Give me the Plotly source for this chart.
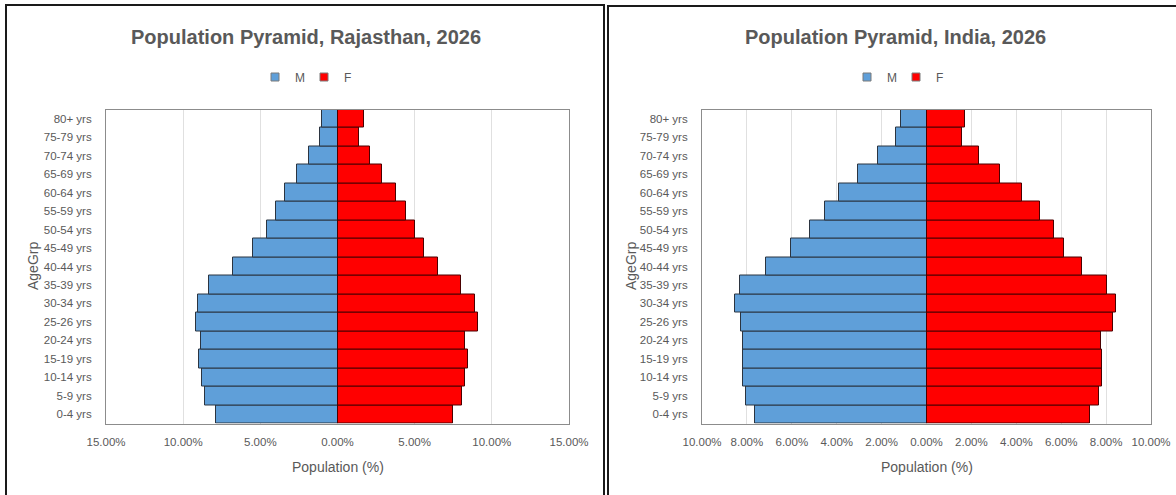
import plotly.graph_objects as go

# Age groups, bottom to top
age_groups = ["0-4 yrs", "5-9 yrs", "10-14 yrs", "15-19 yrs", "20-24 yrs", "25-26 yrs",
              "30-34 yrs", "35-39 yrs", "40-44 yrs", "45-49 yrs", "50-54 yrs", "55-59 yrs",
              "60-64 yrs", "65-69 yrs", "70-74 yrs", "75-79 yrs", "80+ yrs"]

# Rajasthan 2026, share of population (%)
raj_male = [7.87, 8.59, 8.78, 8.96, 8.87, 9.17, 9.02, 8.33, 6.77, 5.46, 4.59, 3.99,
            3.38, 2.62, 1.87, 1.15, 0.98]
raj_female = [7.49, 8.09, 8.26, 8.46, 8.26, 9.11, 8.89, 8.02, 6.49, 5.58, 5.04, 4.46,
              3.77, 2.86, 2.09, 1.41, 1.70]

# India 2026, share of population (%)
ind_male = [7.63, 8.04, 8.19, 8.19, 8.16, 8.28, 8.52, 8.29, 7.16, 6.02, 5.19, 4.52,
            3.88, 3.05, 2.16, 1.35, 1.14]
ind_female = [7.29, 7.70, 7.83, 7.83, 7.79, 8.31, 8.43, 8.05, 6.91, 6.14, 5.69, 5.07,
              4.25, 3.29, 2.35, 1.60, 1.70]

raj_ticks = [-15, -10, -5, 0, 5, 10, 15]
ind_ticks = [-10, -8, -6, -4, -2, 0, 2, 4, 6, 8, 10]

W, H = 1176, 495
BLUE = "#5f9fd9"
RED = "#ff0000"
GREY_TXT = "#595959"
FONT = "Liberation Sans"


def px(x):
    return x / W


def py(y):
    return 1 - y / H


fig = go.Figure()

panels = [("x", "y", "legend", raj_male, raj_female),
          ("x2", "y2", "legend2", ind_male, ind_female)]

for xa, ya, lg, male, female in panels:
    fig.add_trace(go.Bar(y=age_groups, x=[-v for v in male], orientation="h", name="M",
                         marker=dict(color=BLUE, line=dict(color="#2b3440", width=1)),
                         xaxis=xa, yaxis=ya, showlegend=False))
    fig.add_trace(go.Bar(y=age_groups, x=female, orientation="h", name="F",
                         marker=dict(color=RED, line=dict(color="#4a0000", width=1)),
                         xaxis=xa, yaxis=ya, showlegend=False))
    # small square legend keys for the two series
    for name, color in (("M", BLUE), ("F", RED)):
        fig.add_trace(go.Scatter(x=[None], y=[None], mode="markers", name=name,
                                 marker=dict(symbol="square", size=8, color=color,
                                             line=dict(color="#7a7a7a", width=1)),
                                 xaxis=xa, yaxis=ya, legend=lg, showlegend=True))

tick_font = dict(family=FONT, size=11.5, color=GREY_TXT)


def xaxis_cfg(domain, ticks, rng):
    return dict(domain=domain, range=rng, tickvals=ticks,
                ticktext=[f"{abs(t):.2f}%" for t in ticks],
                showgrid=True, gridcolor="#e0e0e0", gridwidth=1, zeroline=False,
                showline=True, mirror=True, linecolor="#8c8c8c", linewidth=1,
                ticks="", tickfont=tick_font, ticklabelstandoff=8, fixedrange=True,
                automargin=False)


def yaxis_cfg(domain, anchor):
    return dict(domain=domain, anchor=anchor, type="category", showgrid=False,
                showline=True, mirror=True, linecolor="#8c8c8c", linewidth=1,
                ticks="", tickfont=tick_font, ticklabelstandoff=11, fixedrange=True,
                automargin=False)


y_dom = [py(423.5), py(109.5)]

legend_common = dict(orientation="h", xanchor="center", yanchor="middle",
                     font=dict(family=FONT, size=12, color=GREY_TXT), itemwidth=30,
                     entrywidth=4, entrywidthmode="pixels", bgcolor="rgba(0,0,0,0)",
                     tracegroupgap=0)

fig.update_layout(
    width=W, height=H,
    margin=dict(l=0, r=0, t=0, b=0),
    paper_bgcolor="white", plot_bgcolor="white",
    barmode="relative", bargap=0,
    xaxis=xaxis_cfg([px(106), px(569)], raj_ticks, [-15, 15]) | dict(anchor="y"),
    yaxis=yaxis_cfg(y_dom, "x"),
    xaxis2=xaxis_cfg([px(702), px(1151)], ind_ticks, [-10, 10]) | dict(anchor="y2"),
    yaxis2=yaxis_cfg(y_dom, "x2"),
    legend=legend_common | dict(x=px(304), y=py(77)),
    legend2=legend_common | dict(x=px(896), y=py(77)),
    showlegend=True,
)

title_font = dict(family=FONT, size=20, color=GREY_TXT, weight="bold")
axis_title_font = dict(family=FONT, size=14, color=GREY_TXT)

annotations = [
    dict(text="Population Pyramid, Rajasthan, 2026", x=px(306), y=py(37)),
    dict(text="Population Pyramid, India, 2026", x=px(895), y=py(37)),
]
annotations = [a | dict(xref="paper", yref="paper", showarrow=False, font=title_font,
                        xanchor="center", yanchor="middle") for a in annotations]

axis_titles = [
    dict(text="Population (%)", x=px(338), y=py(467)),
    dict(text="Population (%)", x=px(927), y=py(467)),
    dict(text="AgeGrp", x=px(33), y=py(266), textangle=-90),
    dict(text="AgeGrp", x=px(631), y=py(266), textangle=-90),
]
annotations += [a | dict(xref="paper", yref="paper", showarrow=False, font=axis_title_font,
                         xanchor="center", yanchor="middle") for a in axis_titles]

fig.update_layout(annotations=annotations)

# Panel frames around each chart
frame = dict(type="rect", xref="paper", yref="paper", line=dict(color="#1a1a1a", width=2),
             fillcolor="rgba(0,0,0,0)", layer="above")
fig.add_shape(frame | dict(x0=px(6), x1=px(604), y0=py(505), y1=py(5)))
fig.add_shape(frame | dict(x0=px(608), x1=px(1190), y0=py(505), y1=py(6)))

fig.write_html("out.html", config={"displayModeBar": False})
